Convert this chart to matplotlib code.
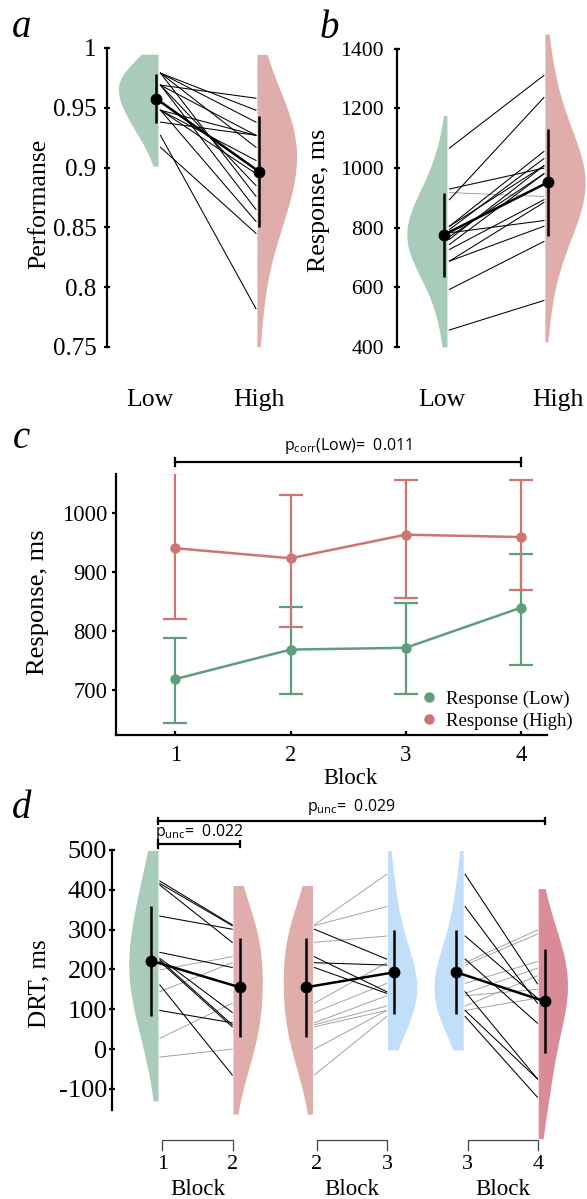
import numpy as np
import matplotlib.pyplot as plt
from matplotlib.lines import Line2D

plt.rcParams['font.family'] = ['Liberation Serif', 'DejaVu Serif']
plt.rcParams['axes.linewidth'] = 1.6
plt.rcParams['axes.unicode_minus'] = False

# ---- panel a: performance per subject ----
perf_low = [0.979, 0.979, 0.979, 0.979, 0.969, 0.969, 0.969, 0.969,
            0.948, 0.948, 0.948, 0.948, 0.938, 0.927, 0.917]
perf_high = [0.948, 0.938, 0.917, 0.876, 0.958, 0.927, 0.865, 0.885,
             0.927, 0.895, 0.855, 0.906, 0.927, 0.782, 0.845]
perf_ticks = [0.75, 0.8, 0.85, 0.9, 0.95, 1.0]
perf_ticklabels = ['0.75', '0.8', '0.85', '0.9', '0.95', '1']

# ---- panel b: response time per subject ----
resp_low = [1067, 894, 930, 918, 805, 794, 783, 761, 744, 727, 688, 688, 593, 457, 805, 770]
resp_high = [1311, 1237, 1000, 905, 1056, 1032, 824, 1008, 981, 894, 885, 805, 754, 556, 1008, 981]
resp_ticks = [400, 600, 800, 1000, 1200, 1400]

cond_labels = ['Low', 'High']

# ---- panel c: response per block (mean and error range) ----
blocks = [1, 2, 3, 4]
c_low_mean = [718, 768, 771, 839]
c_low_lo = [643, 692, 693, 741]
c_low_hi = [788, 840, 847, 930]
c_high_mean = [940, 923, 963, 959]
c_high_lo = [820, 807, 855, 869]
c_high_hi = [1067, 1030, 1056, 1056]
c_ticks = [700, 800, 900, 1000]
c_legend = ['Response (Low)', 'Response (High)']
c_ptext = r'p$_{\mathdefault{corr}}$(Low)=  0.011'

# ---- panel d: DRT per subject and block ----
drt_b1 = [422, 416, 412, 334, 27, 144, 228, 199, 243, 224, -20, 161, 97, 220]
drt_b2 = [312, 310, 268, 301, 115, 217, 92, 232, 205, 61, 0, -65, 66, 56]
drt_b3 = [439, 358, 284, 226, 217, 211, 165, 144, 140, 108, 97, 82, 134, 97]
drt_b4 = [164, 115, 128, 65, 299, 289, 220, -75, 203, 184, -75, -121, 150, 128]
drt_ticks = [-100, 0, 100, 200, 300, 400, 500]
d_pairs = [('1', '2'), ('2', '3'), ('3', '4')]
d_ptext1 = r'p$_{\mathdefault{unc}}$=  0.022'
d_ptext2 = r'p$_{\mathdefault{unc}}$=  0.029'

GREEN_V = '#a9cbb9'
PINK_V = '#dfaeaa'
BLUE_V = '#c2dffa'
ROSE_V = '#d98b97'
GREEN_L = '#5e9e7b'
RED_L = '#cd7570'
ANNOT_FONT = ['Open Sans', 'DejaVu Sans']

W, H = 587, 1199
fig = plt.figure(figsize=(W / 100, H / 100), dpi=100)


def add_ax(left, top, right, bottom):
    return fig.add_axes([left / W, 1 - bottom / H, (right - left) / W, (bottom - top) / H])


def half_violin(ax, vals, x0, side, color, width=0.4, bw_adjust=1.5, cut=0.9, lo=None, hi=None):
    v = np.asarray(vals, float)
    bw = bw_adjust * v.std(ddof=1) * len(v) ** (-0.2)
    y = np.linspace(v.min() - cut * bw, v.max() + cut * bw, 300)
    dens = np.exp(-0.5 * ((y[:, None] - v[None, :]) / bw) ** 2).sum(axis=1)
    dens = dens / dens.max() * width
    keep = np.ones_like(y, bool)
    if lo is not None:
        keep &= y >= lo
    if hi is not None:
        keep &= y <= hi
    ax.fill_betweenx(y[keep], x0, x0 + side * dens[keep], color=color, lw=0,
                     clip_on=False, zorder=1)


def paired(ax, a, b, xa, xb, col_a, col_b, sign, dot_off, width=0.4, lo=None, hi=None):
    half_violin(ax, a, xa, -1, col_a, width=width, lo=lo, hi=hi)
    half_violin(ax, b, xb, +1, col_b, width=width, lo=lo, hi=hi)
    for va, vb in zip(a, b):
        if np.sign(vb - va) == sign:
            ax.plot([xa + 0.025, xb - 0.01], [va, vb], color='black', lw=0.75, zorder=3)
        else:
            ax.plot([xa + 0.025, xb - 0.01], [va, vb], color='#9c9c9c', lw=0.65, zorder=2)
    ma, mb = np.mean(a), np.mean(b)
    sa, sb = np.std(a, ddof=1), np.std(b, ddof=1)
    xs = [xa - dot_off, xb + dot_off]
    ax.vlines(xs, [ma - sa, mb - sb], [ma + sa, mb + sb], color='black', lw=1.8, zorder=4)
    ax.plot(xs, [ma, mb], color='black', lw=1.8, zorder=5)
    ax.plot(xs, [ma, mb], 'o', color='black', ms=7.5, zorder=6)


def left_spine_only(ax, lo, hi):
    for s in ['top', 'right', 'bottom']:
        ax.spines[s].set_visible(False)
    ax.spines['left'].set_bounds(lo, hi)


# ---------------- panel a ----------------
ax_a = add_ax(107, 48, 301.5, 347)
ax_a.set_xlim(-0.515, 1.45)
ax_a.set_ylim(0.75, 1.0)
paired(ax_a, perf_low, perf_high, 0, 1, GREEN_V, PINK_V, -1, 0.02, lo=0.75, hi=1.0)
left_spine_only(ax_a, 0.75, 1.0)
ax_a.set_yticks(perf_ticks, perf_ticklabels)
ax_a.tick_params(axis='y', direction='inout', length=5, width=1.6, labelsize=18, pad=5)
ax_a.set_xticks([-0.08, 1.02], cond_labels)
ax_a.tick_params(axis='x', length=0, pad=30, labelsize=18.5)
ax_a.set_ylabel('Performanse', fontsize=18.5)
ax_a.yaxis.set_label_coords(-0.293, 0.48)

# ---------------- panel b ----------------
ax_b = add_ax(397, 28, 587, 347)
ax_b.set_xlim(-0.51, 1.43)
ax_b.set_ylim(400, 1470)
paired(ax_b, resp_low, resp_high, 0, 1, GREEN_V, PINK_V, +1, 0.03, width=0.41, lo=400)
left_spine_only(ax_b, 400, 1400)
ax_b.set_yticks(resp_ticks)
ax_b.tick_params(axis='y', direction='inout', length=5, width=1.6, labelsize=15.6, pad=7)
ax_b.set_xticks([-0.05, 1.13], cond_labels)
ax_b.tick_params(axis='x', length=0, pad=30, labelsize=18.5)
ax_b.set_ylabel('Response, ms', fontsize=18.7)
ax_b.yaxis.set_label_coords(-0.353, 0.461)

# ---------------- panel c ----------------
ax_c = add_ax(116, 474, 547, 735)
ax_c.set_xlim(0.483, 4.228)
ax_c.set_ylim(623, 1066)
c_low_mean_a = np.array(c_low_mean)
c_high_mean_a = np.array(c_high_mean)
ax_c.errorbar(blocks, c_low_mean_a,
              yerr=[c_low_mean_a - np.array(c_low_lo), np.array(c_low_hi) - c_low_mean_a],
              fmt='o-', color=GREEN_L, ms=6.5, lw=1.8, elinewidth=1.6, capsize=8.5,
              capthick=1.6, zorder=3)
ax_c.errorbar(blocks, c_high_mean_a,
              yerr=[c_high_mean_a - np.array(c_high_lo), np.array(c_high_hi) - c_high_mean_a],
              fmt='o-', color=RED_L, ms=6.5, lw=1.8, elinewidth=1.6, capsize=8.5,
              capthick=1.6, zorder=3)
for s in ['top', 'right']:
    ax_c.spines[s].set_visible(False)
ax_c.set_xticks(blocks)
ax_c.set_yticks(c_ticks)
ax_c.tick_params(axis='x', direction='in', length=3, width=1.6, labelsize=16.3, pad=7)
ax_c.tick_params(axis='y', direction='out', length=3, width=1.6, labelsize=16.3, pad=3)
ax_c.set_xlabel('Block', fontsize=16.3)
ax_c.xaxis.set_label_coords(0.543, -0.125)
ax_c.set_ylabel('Response, ms', fontsize=19)
ax_c.yaxis.set_label_coords(-0.155, 0.51)
handles = [Line2D([], [], marker='o', ls='none', color=GREEN_L, ms=6.5),
           Line2D([], [], marker='o', ls='none', color=RED_L, ms=6.5)]
ax_c.legend(handles, c_legend, loc='lower left', bbox_to_anchor=(0.704, 0.02),
            frameon=False, fontsize=13.5, handlelength=1.0, handletextpad=0.4,
            labelspacing=0.25, borderpad=0, borderaxespad=0)
# significance bracket
ax_c.plot([1, 1, 4, 4], [1080, 1087, 1087, 1080], color='black', lw=1.6, clip_on=False)
ax_c.plot([1, 1], [1087, 1094], color='black', lw=1.6, clip_on=False)
ax_c.plot([4, 4], [1087, 1094], color='black', lw=1.6, clip_on=False)
ax_c.text(2.5, 1113, c_ptext, ha='center', va='center', fontsize=11.5, family=ANNOT_FONT)

# ---------------- panel d ----------------
ax_d = add_ax(112, 850, 580, 1110)
ax_d.set_xlim(-0.613, 5.627)
ax_d.set_ylim(-153, 500)
offsets = [0, 2.06, 4.07]
pair_data = [(drt_b1, drt_b2, GREEN_V, PINK_V),
             (drt_b2, drt_b3, PINK_V, BLUE_V),
             (drt_b3, drt_b4, BLUE_V, ROSE_V)]
for off, (a, b, ca, cb), (la, lb) in zip(offsets, pair_data, d_pairs):
    paired(ax_d, a, b, off, off + 1, ca, cb, -1, 0.093, width=0.39, hi=500)
    ax_d.plot([off + 0.06, off + 0.06, off + 1.0, off + 1.0], [-254, -229, -229, -254],
              color='#444444', lw=0.9, clip_on=False)
    ax_d.text(off + 0.06, -291, la, ha='center', va='center', fontsize=16)
    ax_d.text(off + 1.0, -291, lb, ha='center', va='center', fontsize=16)
    ax_d.text(off + 0.53, -352, 'Block', ha='center', va='center', fontsize=16.6)
left_spine_only(ax_d, -153, 500)
ax_d.set_xticks([])
ax_d.set_yticks(drt_ticks)
ax_d.tick_params(axis='y', direction='inout', length=5, width=1.6, labelsize=19, pad=1)
ax_d.set_ylabel('DRT, ms', fontsize=18)
ax_d.yaxis.set_label_coords(-0.132, 0.485)
# significance brackets
m2_x = offsets[0] + 1 + 0.093
m4_x = offsets[2] + 1 + 0.093
ax_d.plot([0, m2_x], [515, 515], color='black', lw=1.6, clip_on=False)
ax_d.plot([0, 0], [505, 525], color='black', lw=1.6, clip_on=False)
ax_d.plot([m2_x, m2_x], [507, 523], color='black', lw=1.6, clip_on=False)
ax_d.text(m2_x / 2, 545, d_ptext1, ha='center', va='center', fontsize=11.5, family=ANNOT_FONT)
ax_d.plot([0, m4_x], [573, 573], color='black', lw=1.6, clip_on=False)
ax_d.plot([0, 0], [566, 580], color='black', lw=1.6, clip_on=False)
ax_d.plot([m4_x, m4_x], [566, 580], color='black', lw=1.6, clip_on=False)
ax_d.text(m4_x / 2, 608, d_ptext2, ha='center', va='center', fontsize=11.5, family=ANNOT_FONT)

# panel letters
for letter, x, y in [('a', 12, 37), ('b', 320, 38), ('c', 13, 448), ('d', 12, 818)]:
    fig.text(x / W, 1 - y / H, letter, fontsize=28, style='italic', va='baseline', ha='left')

fig.savefig('out.png', dpi=100)
